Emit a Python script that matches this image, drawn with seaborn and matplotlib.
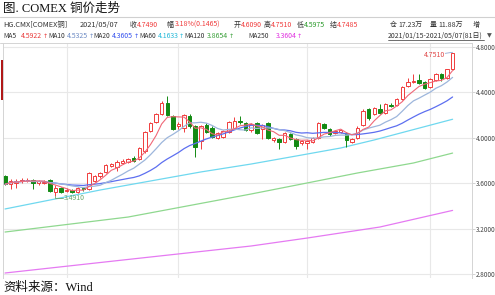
import numpy as np
import pandas as pd
import matplotlib
matplotlib.use("Agg")
import matplotlib.pyplot as plt
import seaborn as sns
from matplotlib.lines import Line2D
from matplotlib.patches import Rectangle

# ---------------- data ----------------
opens = [3.66, 3.59, 3.60, 3.62, 3.62, 3.63, 3.60, 3.60, 3.63, 3.52,
         3.56, 3.53, 3.54, 3.52, 3.56, 3.55, 3.62, 3.66, 3.70, 3.75,
         3.74, 3.78, 3.79, 3.82, 3.81, 3.88, 4.06, 4.14, 4.21, 4.31,
         4.19, 4.10, 4.09, 4.19, 4.10, 3.97, 4.11, 4.09, 4.00, 4.01,
         4.05, 4.09, 4.15, 4.13, 4.07, 4.13, 4.08, 4.13, 3.98, 3.99,
         3.96, 4.03, 3.99, 3.95, 3.95, 3.96, 4.00, 4.12, 4.08, 4.04,
         4.05, 4.04, 3.96, 4.00, 4.11, 4.25, 4.21, 4.25, 4.22, 4.29,
         4.29, 4.34, 4.46, 4.49, 4.51, 4.49, 4.45, 4.51, 4.56, 4.53,
         4.609]
highs = [3.67, 3.64, 3.64, 3.65, 3.65, 3.64, 3.63, 3.63, 3.64, 3.58,
         3.57, 3.56, 3.55, 3.57, 3.57, 3.70, 3.67, 3.70, 3.77, 3.78,
         3.80, 3.81, 3.82, 3.84, 3.92, 4.06, 4.14, 4.22, 4.32, 4.37,
         4.20, 4.14, 4.21, 4.21, 4.11, 4.11, 4.13, 4.10, 4.05, 4.07,
         4.15, 4.18, 4.19, 4.14, 4.13, 4.14, 4.12, 4.14, 4.01, 4.00,
         4.05, 4.04, 4.00, 3.98, 3.98, 4.01, 4.14, 4.13, 4.09, 4.07,
         4.08, 4.05, 4.00, 4.10, 4.25, 4.26, 4.27, 4.30, 4.31, 4.31,
         4.35, 4.46, 4.53, 4.56, 4.56, 4.50, 4.53, 4.57, 4.57, 4.61,
         4.751]
lows = [3.58, 3.55, 3.56, 3.60, 3.61, 3.55, 3.58, 3.59, 3.52, 3.491,
        3.51, 3.52, 3.51, 3.51, 3.53, 3.54, 3.61, 3.65, 3.69, 3.74,
        3.71, 3.77, 3.78, 3.79, 3.80, 3.87, 4.05, 4.13, 4.20, 4.19,
        4.07, 4.08, 4.05, 4.09, 3.83, 3.90, 4.04, 4.00, 3.99, 4.00,
        4.04, 4.08, 4.12, 4.06, 4.05, 4.03, 3.99, 3.99, 3.96, 3.90,
        3.95, 3.98, 3.90, 3.94, 3.90, 3.95, 3.99, 4.08, 4.02, 4.03,
        4.04, 3.92, 3.95, 3.99, 4.10, 4.16, 4.20, 4.21, 4.21, 4.27,
        4.28, 4.33, 4.45, 4.48, 4.47, 4.43, 4.44, 4.50, 4.50, 4.52,
        4.5975]
closes = [3.59, 3.62, 3.62, 3.63, 3.63, 3.60, 3.62, 3.61, 3.53, 3.56,
          3.52, 3.54, 3.52, 3.56, 3.55, 3.69, 3.66, 3.69, 3.76, 3.77,
          3.79, 3.80, 3.81, 3.80, 3.91, 4.05, 4.13, 4.21, 4.31, 4.20,
          4.08, 4.12, 4.20, 4.10, 3.92, 4.10, 4.05, 4.01, 4.04, 4.06,
          4.14, 4.15, 4.14, 4.07, 4.12, 4.04, 4.11, 4.00, 4.00, 3.96,
          4.04, 3.99, 3.93, 3.97, 3.97, 4.00, 4.13, 4.09, 4.03, 4.06,
          4.07, 3.98, 3.99, 4.09, 4.24, 4.17, 4.26, 4.22, 4.30, 4.28,
          4.34, 4.45, 4.49, 4.50, 4.48, 4.44, 4.52, 4.56, 4.53, 4.6025,
          4.749]

# long moving averages (candle index, value)
ma60_idx = [0, 17, 35, 44, 53, 60, 66, 80]
ma60_val = [3.373, 3.540, 3.699, 3.769, 3.848, 3.910, 3.981, 4.1633]
ma120_idx = [0, 22, 44, 54, 63, 73, 80]
ma120_val = [3.170, 3.302, 3.505, 3.602, 3.690, 3.778, 3.8654]
ma250_idx = [0, 21, 44, 54, 67, 80]
ma250_val = [2.809, 2.923, 3.047, 3.117, 3.214, 3.3604]

yticks = [2.8, 3.2, 3.6, 4.0, 4.4, 4.8]
ytick_labels = ["2.8000", "3.2000", "3.6000", "4.0000", "4.4000", "4.8000"]
month_starts = [11, 31, 54, 76]

# ---------------- styling ----------------
sns.set_theme(style="white")
plt.rcParams["font.family"] = ["Noto Sans CJK SC", "DejaVu Sans"]

RED = "#f03c3c"
GREEN = "#138a13"
C_MA5 = "#f06878"
C_MA10 = "#9db6dc"
C_MA20 = "#5d6ff0"
C_MA60 = "#6fd8ef"
C_MA120 = "#8fd88f"
C_MA250 = "#e57af2"

W, H = 495, 295
fig = plt.figure(figsize=(W / 100, H / 100), dpi=100)
fig.patch.set_facecolor("white")


def fx(px):
    return px / W


def fy(py):
    return 1 - py / H


ax = fig.add_axes([fx(3), fy(278), fx(472) - fx(3), fy(43) - fy(278)])
ax.set_facecolor("white")

df = pd.DataFrame({"i": np.arange(len(closes)), "open": opens, "high": highs,
                   "low": lows, "close": closes})
df["ma5"] = df["close"].rolling(5, min_periods=1).mean()
df["ma10"] = df["close"].rolling(10, min_periods=1).mean()
df["ma20"] = df["close"].rolling(20, min_periods=1).mean()

# grid
for m in month_starts:
    ax.axvline(m, color="#e8e8e8", lw=0.8, zorder=0)
for t in yticks:
    ax.axhline(t, color="#e8e8e8", lw=0.8, zorder=0)

# long MAs
sns.lineplot(x=ma250_idx, y=ma250_val, color=C_MA250, lw=0.9, ax=ax, zorder=1)
sns.lineplot(x=ma120_idx, y=ma120_val, color=C_MA120, lw=0.9, ax=ax, zorder=1)
sns.lineplot(x=ma60_idx, y=ma60_val, color=C_MA60, lw=0.9, ax=ax, zorder=1)

# candles
up = df["close"] >= df["open"]
for _, r in df.iterrows():
    col = RED if r["close"] >= r["open"] else GREEN
    ax.vlines(r["i"], r["low"], r["high"], color=col, lw=0.7, zorder=2)
bw = 0.62
body_lo = np.minimum(df["open"], df["close"])
body_h = np.maximum(np.abs(df["close"] - df["open"]), 0.004)
ax.bar(df["i"][up], body_h[up], bottom=body_lo[up], width=bw,
       facecolor="white", edgecolor=RED, lw=0.7, zorder=2.5)
ax.bar(df["i"][~up], body_h[~up], bottom=body_lo[~up], width=bw,
       facecolor=GREEN, edgecolor=GREEN, lw=0.7, zorder=2.5)

# short MAs
sns.lineplot(data=df, x="i", y="ma20", color=C_MA20, lw=0.9, ax=ax, zorder=3)
sns.lineplot(data=df, x="i", y="ma10", color=C_MA10, lw=0.9, ax=ax, zorder=3)
sns.lineplot(data=df, x="i", y="ma5", color=C_MA5, lw=0.8, ax=ax, zorder=3)

# high / low markers
ax.plot([78.7, 80.0], [4.744, 4.753], color="#8fa6d0", lw=0.6, zorder=4)
ax.text(78.6, 4.727, "4.7510", color="#e04848", fontsize=5, ha="right",
        va="center", zorder=4)
ax.plot([9, 9, 10.4], [3.491, 3.468, 3.468], color="#6aa86a", lw=0.6, zorder=4)
ax.text(10.5, 3.468, "3.4910", color="#6aa86a", fontsize=5, ha="left",
        va="center", zorder=4)

ax.set_xlim(-0.36, 83.47)
ax.set_ylim(2.765, 4.835)
ax.set_xlabel("")
ax.set_ylabel("")
ax.set_xticks([])
ax.yaxis.tick_right()
ax.set_yticks(yticks)
ax.set_yticklabels(ytick_labels, fontsize=4.6, color="#444444")
ax.tick_params(axis="y", length=2, pad=1.0, color="#cccccc", width=0.6, right=True)
for s in ["left", "top", "right"]:
    ax.spines[s].set_color("#d4d4d4")
    ax.spines[s].set_linewidth(0.7)
ax.spines["bottom"].set_visible(False)
if ax.get_legend():
    ax.get_legend().remove()

# ---------------- header / title / footer ----------------
TFONT = ["Liberation Serif", "Noto Sans CJK SC"]
fig.text(fx(3), fy(9), "图. COMEX 铜价走势", family=TFONT, fontsize=9,
         color="#111111", ha="left", va="center")
fig.text(fx(3), fy(288), "资料来源：Wind", family=TFONT, fontsize=9,
         color="#111111", ha="left", va="center")

fig.add_artist(Line2D([0, 1], [fy(17), fy(17)], color="#d0d0d0", lw=0.8))
fig.add_artist(Line2D([0, fx(3)], [fy(43), fy(43)], color="#d4d4d4", lw=0.7))
fig.add_artist(Rectangle((fx(1), fy(100)), fx(1.6), fy(60) - fy(100),
                         facecolor="#b01818", edgecolor="none"))

HS = 5.0
DARK = "#333333"


def put(px, py, s, color=DARK, size=HS):
    return fig.text(fx(px), fy(py), s, color=color, fontsize=size, ha="left",
                    va="center", family=["Noto Sans CJK SC", "DejaVu Sans"])


row1 = 25
put(3, row1, "HG.CMX[COMEX铜]", size=5.3)
put(80, row1, "2021/05/07", size=5.3)
put(130, row1, "收")
put(137, row1, "4.7490", RED)
put(167, row1, "幅")
put(175, row1, "3.18%(0.1465)", RED)
put(234, row1, "开")
put(241, row1, "4.6090", RED)
put(264, row1, "高")
put(271, row1, "4.7510", RED)
put(297, row1, "低")
put(304, row1, "4.5975", "#2a9a2a")
put(330, row1, "结")
put(337, row1, "4.7485", RED)
put(390, row1, "仓")
put(398, row1, "17.23万")
put(430, row1, "量")
put(438, row1, "11.88万")
put(473, row1, "增")

row2 = 36
ma_labels = ["MA5", "MA10", "MA20", "MA60", "MA120", "MA250"]
ma_label_x = [3, 48, 93, 139, 184, 248]
ma_values = ["4.5922", "4.5325", "4.3605", "4.1633", "3.8654", "3.3604"]
ma_value_x = [21, 67, 112, 158, 207, 276]
ma_text_colors = ["#e83a3a", "#6d8bc4", "#3350ee", "#22b8d8", "#3aa03a", "#e030e0"]
renderer = fig.canvas.get_renderer()
for lab, lx, val, vx, c in zip(ma_labels, ma_label_x, ma_values,
                               ma_value_x, ma_text_colors):
    put(lx, row2, lab, size=4.8)
    t = put(vx, row2, val, c)
    bb = t.get_window_extent(renderer=renderer)
    fig.text(bb.x1 / W + fx(0.3), fy(row2), "↑", color=c, fontsize=4.5,
             ha="left", va="center", family=["DejaVu Sans"])
put(388, row2, "2021/01/15-2021/05/07(81日)")
fig.add_artist(Line2D([fx(388), fx(484)], [fy(40.5), fy(40.5)], color=DARK, lw=0.5))
fig.text(fx(487), fy(row2), "▼", color="#555555", fontsize=4.5, ha="left",
         va="center", family=["DejaVu Sans"])

fig.savefig("out.png", dpi=100, facecolor="white")
